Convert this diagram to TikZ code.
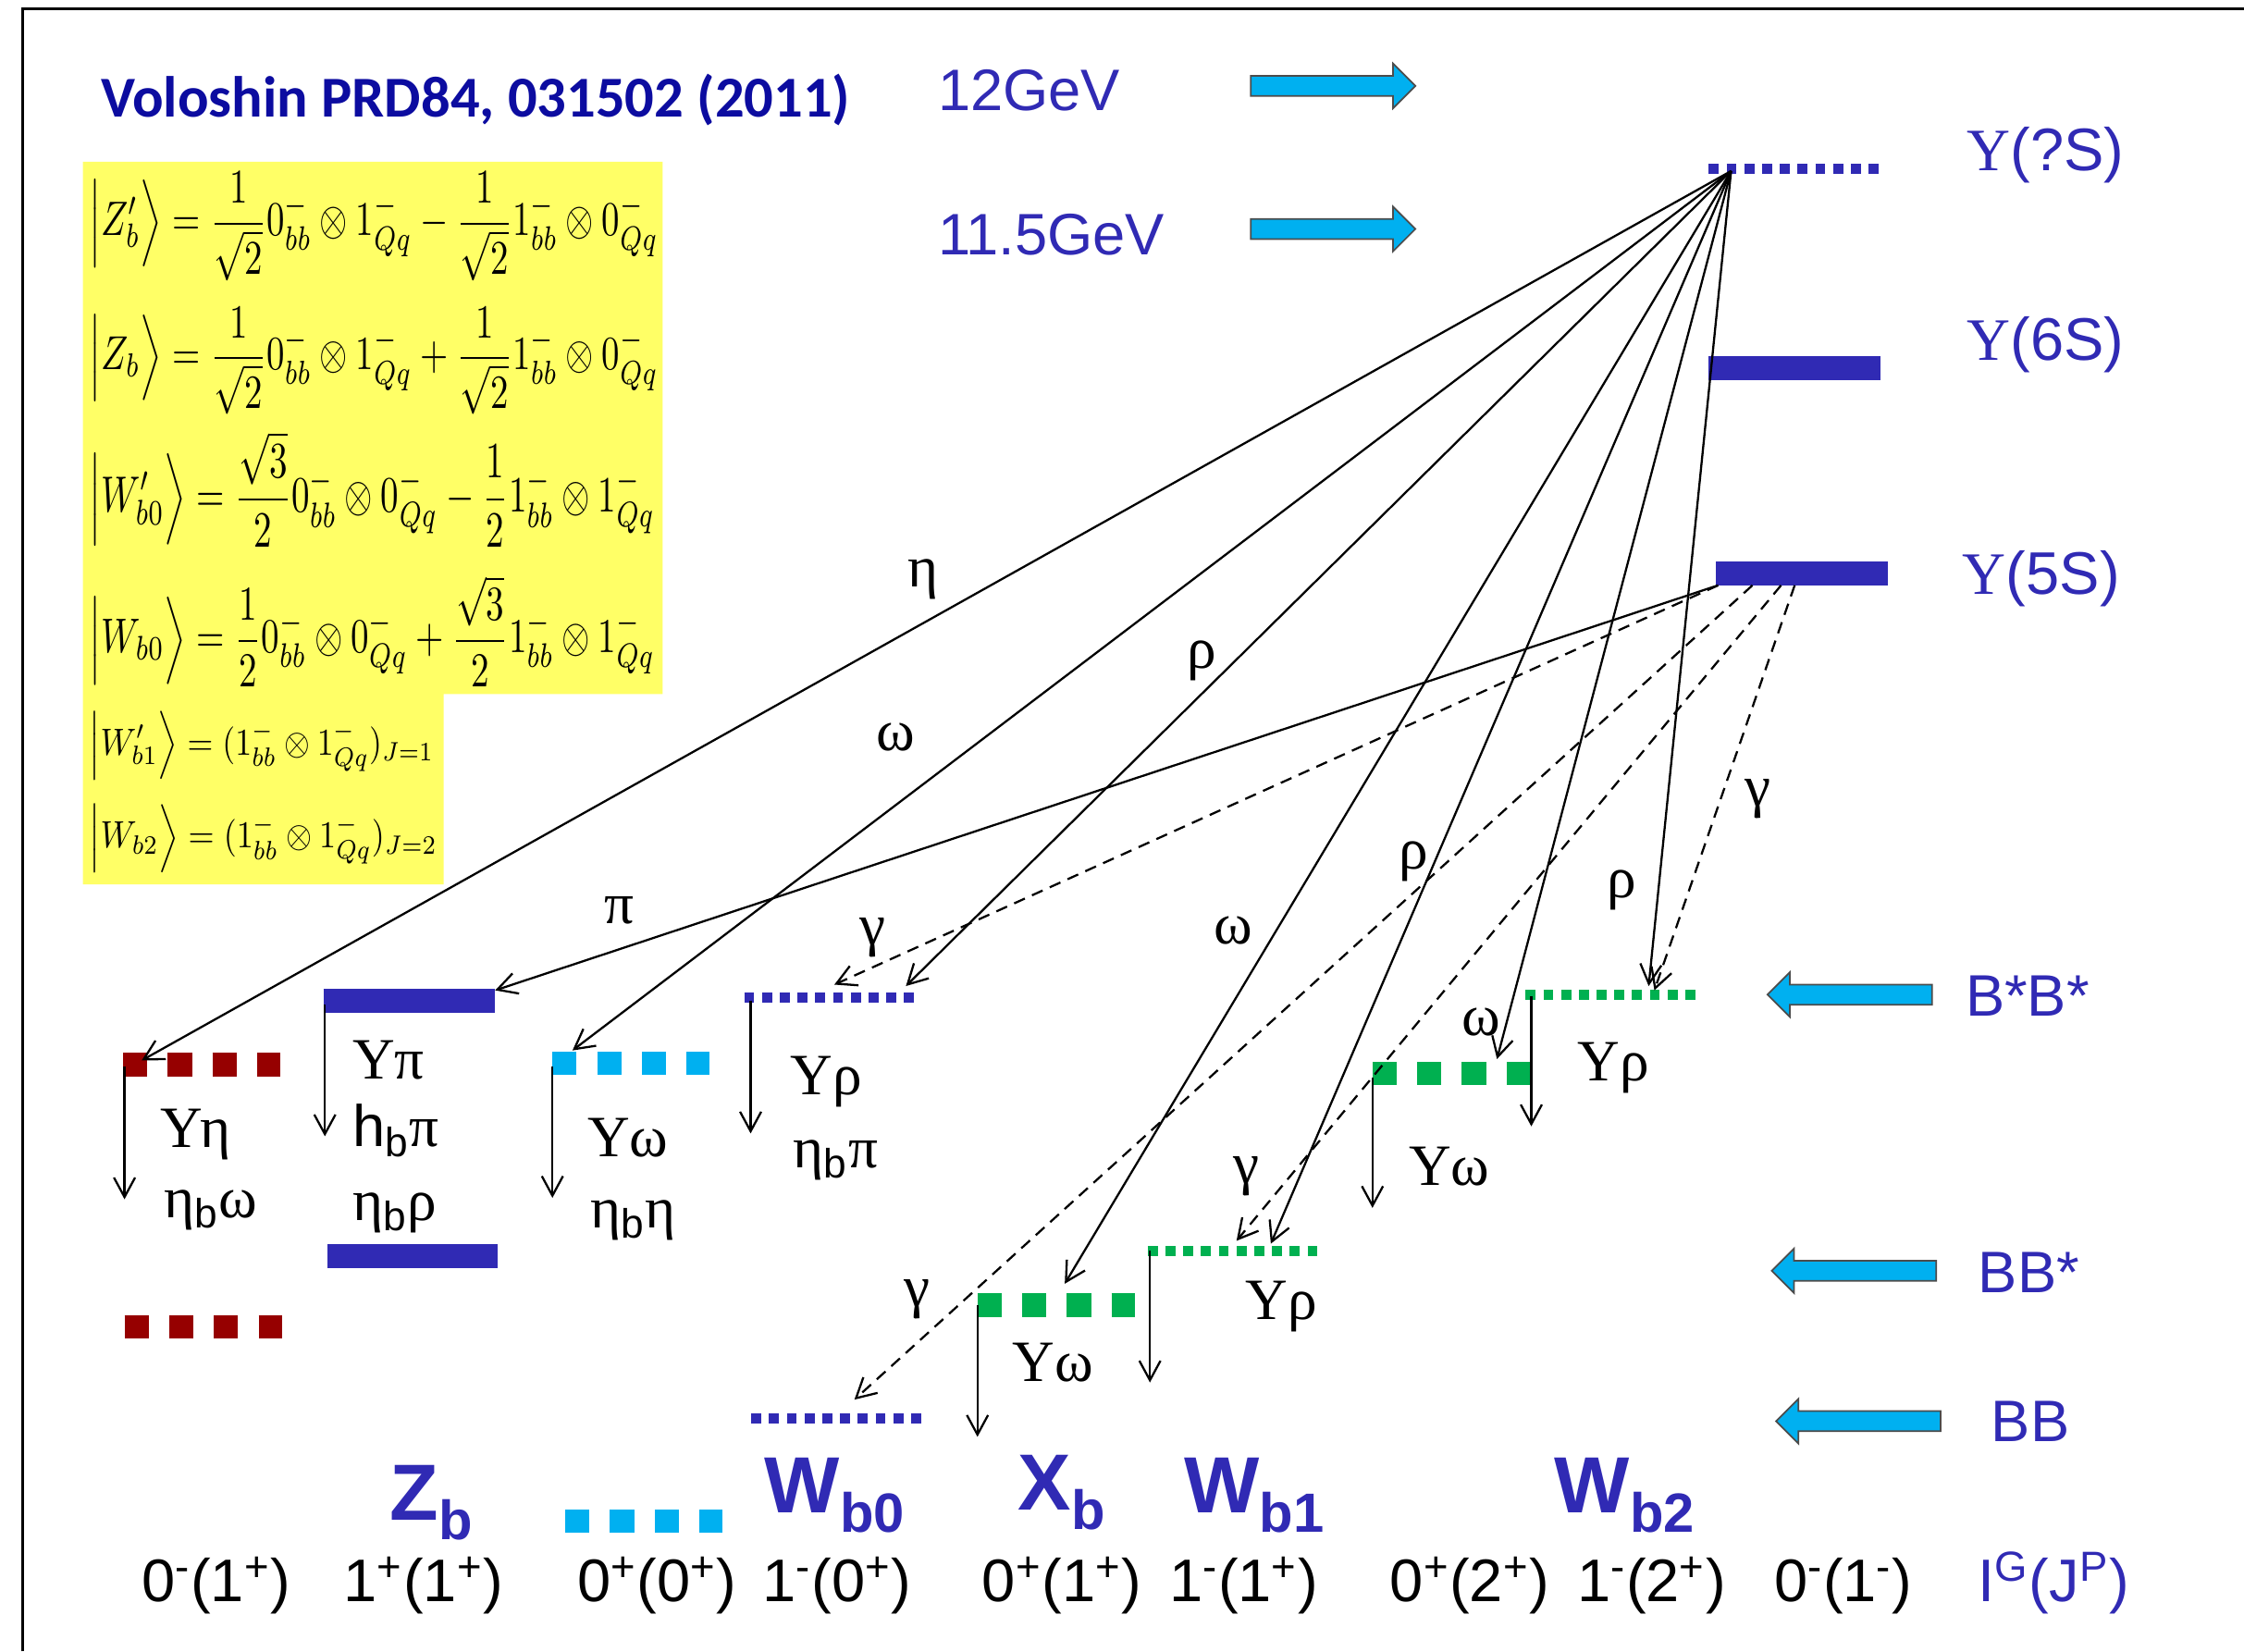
\documentclass[tikz,border=0pt]{standalone}
\usepackage{fontspec}
\setmainfont{Liberation Serif}
\setsansfont{Liberation Sans}
\newfontfamily\titlefont{Carlito}
\usepackage{amsmath,amssymb}
\usepackage{graphicx}
\usepackage{xcolor}
\usepackage{tikz}
\usetikzlibrary{arrows.meta, shapes.arrows, positioning}

\definecolor{lvblue}{RGB}{48,42,180}
\definecolor{navytitle}{RGB}{12,12,160}
\definecolor{darkred}{RGB}{150,0,0}
\definecolor{skycyan}{RGB}{0,176,240}
\definecolor{lvgreen}{RGB}{0,176,80}
\definecolor{paleyellow}{RGB}{255,255,102}

\newcommand{\Ups}{Υ}
\newcommand{\bsub}{\textsubscript{\sffamily b}}
\newcommand{\lowsub}[1]{\raisebox{-6pt}{\fontsize{17}{17}\selectfont #1}}
\newcommand{\eqbox}[3]{\resizebox*{#1}{#2}{$\displaystyle #3$}}

\begin{document}
\begin{tikzpicture}[
        x=0.15472mm, y=-0.15472mm,
        >={Straight Barb[length=6pt,width=6.5pt]}, % open arrow heads
        decay/.style={->, line width=0.65pt},
        gam/.style={->, line width=0.65pt, dash pattern=on 3.6pt off 2.4pt},
        solidlev/.style={line width=7.4pt},
        dotlev/.style={line width=3pt, dash pattern=on 3.08pt off 2.38pt},
        boxlev/.style={line width=7.2pt, dash pattern=on 7.45pt off 6.3pt},
        blk/.style={single arrow, draw=black!70, line width=0.5pt, fill=skycyan,
            minimum height=50.6pt, minimum width=13.2pt, inner sep=2.85pt,
            single arrow head extend=3.75pt},
        ch/.style={font=\fontsize{18}{18}\selectfont, inner sep=0pt, anchor=base west},
        tr/.style={font=\fontsize{18}{18}\selectfont, inner sep=0pt},
        ylab/.style={text=lvblue, font=\fontsize{18.5}{18.5}\selectfont, inner sep=0pt, anchor=base west},
        thr/.style={text=lvblue, font=\sffamily\fontsize{18}{18}\selectfont, inner sep=0pt, anchor=base west},
        state/.style={text=lvblue, font=\sffamily\bfseries\fontsize{24.5}{24.5}\selectfont, inner sep=0pt, anchor=base west},
        qn/.style={font=\sffamily\fontsize{18.5}{18.5}\selectfont, inner sep=0pt, anchor=base},
        eqn/.style={inner sep=0pt, anchor=west}
    ]
    \useasboundingbox (0,0) rectangle (1568,1154);

    % ==========================================
    % Frame and formula box
    % ==========================================
    \draw[line width=0.9pt] (16,1154) -- (16,6) -- (1568,6);
    \fill[paleyellow] (58,113) -- (463,113) -- (463,485) -- (310,485)
        -- (310,618) -- (58,618) -- cycle;

    \node[eqn] (eZp) at (62,158) {\eqbox{175pt}{33.5pt}{\Big|Z^{\prime}_b\Big\rangle=\frac{1}{\sqrt{2}}0^{-}_{bb}\otimes1^{-}_{Qq}-\frac{1}{\sqrt{2}}1^{-}_{bb}\otimes0^{-}_{Qq}}};
    \node[eqn] (eZ) at (62,252) {\eqbox{175pt}{33pt}{\Big|Z_b\Big\rangle=\frac{1}{\sqrt{2}}0^{-}_{bb}\otimes1^{-}_{Qq}+\frac{1}{\sqrt{2}}1^{-}_{bb}\otimes0^{-}_{Qq}}};
    \node[eqn] (eWp0) at (62,342) {\eqbox{174pt}{35.5pt}{\Big|W^{\prime}_{b0}\Big\rangle=\frac{\sqrt{3}}{2}0^{-}_{bb}\otimes0^{-}_{Qq}-\frac{1}{2}1^{-}_{bb}\otimes1^{-}_{Qq}}};
    \node[eqn] (eW0) at (62,441) {\eqbox{174pt}{34pt}{\Big|W_{b0}\Big\rangle=\frac{1}{2}0^{-}_{bb}\otimes0^{-}_{Qq}+\frac{\sqrt{3}}{2}1^{-}_{bb}\otimes1^{-}_{Qq}}};
    \node[eqn] (eWp1) at (62,521) {\eqbox{106pt}{21pt}{\Big|W^{\prime}_{b1}\Big\rangle=(1^{-}_{bb}\otimes1^{-}_{Qq})_{J=1}}};
    \node[eqn] (eW2) at (62,586) {\eqbox{107pt}{21pt}{\Big|W_{b2}\Big\rangle=(1^{-}_{bb}\otimes1^{-}_{Qq})_{J=2}}};

    % ==========================================
    % Title and energies
    % ==========================================
    \node[text=navytitle, font=\titlefont\bfseries\fontsize{17.8}{17.8}\selectfont,
        inner sep=0pt, anchor=base west] (title) at (70,82) {Voloshin PRD84, 031502 (2011)};
    \node[thr] (e12) at (655,77) {12GeV};
    \node[thr] (e115) at (655,178) {11.5GeV};
    \node[blk] (a12) at (928,60) {};
    \node[blk] (a115) at (928,160) {};

    % ==========================================
    % Upsilon levels
    % ==========================================
    \draw[dotlev, lvblue] (1194,118) -- (1313,118);
    \draw[solidlev, lvblue] (1194,257) -- (1314,257);
    \draw[solidlev, lvblue] (1199,401) -- (1319,401);
    \node[ylab] (lYq) at (1374,119) {\Ups{\sffamily(?S)}};
    \node[ylab] (lY6) at (1374,252) {\Ups{\sffamily(6S)}};
    \node[ylab] (lY5) at (1371,415) {\Ups{\sffamily(5S)}};

    % thresholds
    \node[blk, shape border rotate=180] (aBsBs) at (1296,695) {};
    \node[blk, shape border rotate=180] (aBBs) at (1299,888) {};
    \node[blk, shape border rotate=180] (aBB) at (1302,993) {};
    \node[thr] (lBsBs) at (1373,710) {B*B*};
    \node[thr] (lBBs) at (1382,903) {BB*};
    \node[thr] (lBB) at (1391,1007) {BB};

    % ==========================================
    % Molecular levels
    % ==========================================
    \draw[boxlev, darkred] (86,744) -- (196,744);
    \draw[boxlev, darkred] (87,927) -- (197,927);
    \draw[solidlev, lvblue] (226,699) -- (346,699);
    \draw[solidlev, lvblue] (229,878) -- (348,878);
    \draw[boxlev, skycyan] (386,743) -- (496,743);
    \draw[boxlev, skycyan] (395,1063) -- (505,1063);
    \draw[dotlev, lvblue] (520,697) -- (639,697);
    \draw[dotlev, lvblue] (525,991) -- (644,991);
    \draw[boxlev, lvgreen] (683,912) -- (793,912);
    \draw[dotlev, lvgreen] (802,874) -- (921,874);
    \draw[boxlev, lvgreen] (959,750) -- (1069,750);
    \draw[dotlev, lvgreen] (1066,695) -- (1185,695);

    % ==========================================
    % Transition points
    % ==========================================
    \coordinate (Yq) at (1209.6,119.5);
    \coordinate (Y5a) at (1200.5,409);
    \coordinate (Y5b) at (1224.5,409);
    \coordinate (Y5c) at (1244.5,409);
    \coordinate (Y5d) at (1254,409);

    \coordinate (tEta) at (99,741);
    \coordinate (tPi) at (346,692);
    \coordinate (tOmA) at (400,734);
    \coordinate (tRhoA) at (633,689);
    \coordinate (tGamA) at (583,688);
    \coordinate (tGamB) at (597,978);
    \coordinate (tOmB) at (744,897);
    \coordinate (tRhoB) at (888,869);
    \coordinate (tGamC) at (864,867);
    \coordinate (tOmC) at (1046,740);
    \coordinate (tRhoC) at (1152,689);
    \coordinate (tGamD) at (1156,692);

    % ==========================================
    % Transitions from Y(?S) and Y(5S)
    % ==========================================
    \draw[decay] (Yq) -- (tEta);
    \draw[decay] (Yq) -- (tOmA);
    \draw[decay] (Yq) -- (tRhoA);
    \draw[decay] (Yq) -- (tOmB);
    \draw[decay] (Yq) -- (tRhoB);
    \draw[decay] (Yq) -- (tOmC);
    \draw[decay] (Yq) -- (tRhoC);
    \draw[decay] (Y5a) -- (tPi);

    \draw[gam] (Y5a) -- (tGamA);
    \draw[gam] (Y5b) -- (tGamB);
    \draw[gam] (Y5c) -- (tGamC);
    \draw[gam] (Y5d) -- (tGamD);

    \node[tr] (gEta) at (645,405) {η};
    \node[tr] (gOmA) at (626,515) {ω};
    \node[tr] (gRhoA) at (840,462) {ρ};
    \node[tr] (gPi) at (433,636) {π};
    \node[tr] (gGamA) at (610,655) {γ};
    \node[tr] (gOmB) at (862,650) {ω};
    \node[tr] (gRhoB) at (988,602) {ρ};
    \node[tr] (gOmC) at (1035,714) {ω};
    \node[tr] (gRhoC) at (1133,622) {ρ};
    \node[tr] (gGamB) at (641,908) {γ};
    \node[tr] (gGamC) at (871,822) {γ};
    \node[tr] (gGamD) at (1228,558) {γ};

    % ==========================================
    % Decays of the molecular states
    % ==========================================
    \coordinate (dZa) at (87,745);    \coordinate (dZa') at (87,838);
    \coordinate (dZb) at (227,702);   \coordinate (dZb') at (227,794);
    \coordinate (dWa) at (386,745);   \coordinate (dWa') at (386,837);
    \coordinate (dWb) at (524.5,699); \coordinate (dWb') at (524.5,792);
    \coordinate (dXb) at (683,912);   \coordinate (dXb') at (683,1004);
    \coordinate (dW1) at (803.5,874); \coordinate (dW1') at (803.5,966);
    \coordinate (dW2a) at (959,753);  \coordinate (dW2a') at (959,844);
    \coordinate (dW2b) at (1070,696); \coordinate (dW2b') at (1070,787);

    \draw[decay] (dZa) -- (dZa');
    \draw[decay] (dZb) -- (dZb');
    \draw[decay] (dWa) -- (dWa');
    \draw[decay] (dWb) -- (dWb');
    \draw[decay] (dXb) -- (dXb');
    \draw[decay] (dW1) -- (dW1');
    \draw[decay] (dW2a) -- (dW2a');
    \draw[decay] (dW2b) -- (dW2b');

    \node[ch] (cZa1) at (112,802) {\Ups η};
    \node[ch] (cZa2) at (114,851) {η\bsub ω};
    \node[ch] (cZb1) at (246,754) {\Ups π};
    \node[ch] (cZb2) at (246,801) {{\sffamily h}\bsub π};
    \node[ch] (cZb3) at (246,853) {η\bsub ρ};
    \node[ch] (cWa1) at (410,808) {\Ups ω};
    \node[ch] (cWa2) at (412,858) {η\bsub η};
    \node[ch] (cWb1) at (552,765) {\Ups ρ};
    \node[ch] (cWb2) at (554,816) {η\bsub π};
    \node[ch] (cXb) at (707,965) {\Ups ω};
    \node[ch] (cW1) at (870,922) {\Ups ρ};
    \node[ch] (cW2a) at (984,828) {\Ups ω};
    \node[ch] (cW2b) at (1102,755) {\Ups ρ};

    % ==========================================
    % State names and quantum numbers
    % ==========================================
    \node[state] (nZb) at (272,1062) {Z\lowsub{b}};
    \node[state] (nWb0) at (534,1057) {W\lowsub{b0}};
    \node[state] (nXb) at (711,1055) {X\lowsub{b}};
    \node[state] (nWb1) at (827,1057) {W\lowsub{b1}};
    \node[state] (nWb2) at (1086,1057) {W\lowsub{b2}};

    \node[qn] (q1) at (151,1119) {0\textsuperscript{-}(1\textsuperscript{+})};
    \node[qn] (q2) at (296,1119) {1\textsuperscript{+}(1\textsuperscript{+})};
    \node[qn] (q3) at (459,1119) {0\textsuperscript{+}(0\textsuperscript{+})};
    \node[qn] (q4) at (585,1119) {1\textsuperscript{-}(0\textsuperscript{+})};
    \node[qn] (q5) at (742,1119) {0\textsuperscript{+}(1\textsuperscript{+})};
    \node[qn] (q6) at (869,1119) {1\textsuperscript{-}(1\textsuperscript{+})};
    \node[qn] (q7) at (1027,1119) {0\textsuperscript{+}(2\textsuperscript{+})};
    \node[qn] (q8) at (1154,1119) {1\textsuperscript{-}(2\textsuperscript{+})};
    \node[qn] (q9) at (1288,1119) {0\textsuperscript{-}(1\textsuperscript{-})};
    \node[qn, text=lvblue] (q10) at (1435,1119) {I\textsuperscript{G}(J\textsuperscript{P})};

\end{tikzpicture}
\end{document}
